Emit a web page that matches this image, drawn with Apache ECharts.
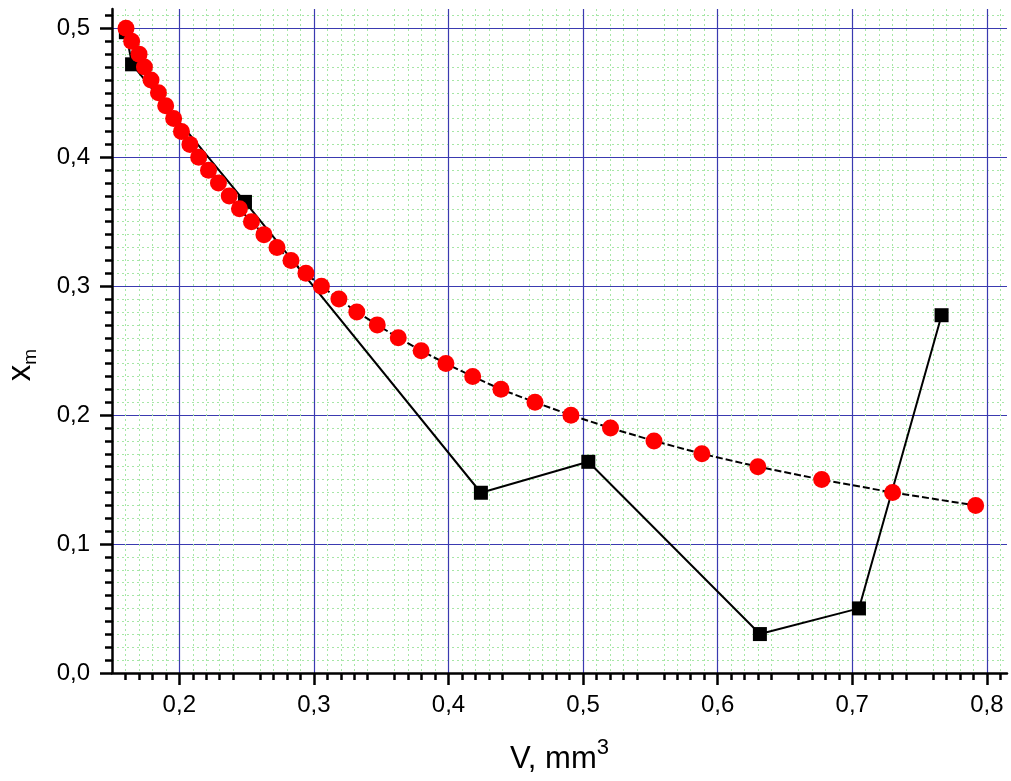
<!DOCTYPE html>
<html>
<head>
<meta charset="utf-8">
<script src="https://cdn.jsdelivr.net/npm/echarts@6/dist/echarts.min.js"></script>
<style>
html,body{margin:0;padding:0;background:#fff;}
#chart{width:1011px;height:781px;}
</style>
</head>
<body>
<div id="chart"></div>
<script>
// Red circles series (V, x_m)
const redV = [0.1604,0.1646,0.1701,0.1741,0.1790,0.1845,0.1899,0.1958,0.2016,0.2079,0.2144,0.2217,0.2291,0.2371,0.2447,0.2536,0.2629,0.2726,0.2830,0.2941,0.3056,0.3186,0.3319,0.3471,0.3627,0.3797,0.3981,0.4180,0.4390,0.4643,0.4910,0.5204,0.5527,0.5883,0.6299,0.6773,0.7300,0.7917];
const redX = [0.50,0.49,0.48,0.47,0.46,0.45,0.44,0.43,0.42,0.41,0.40,0.39,0.38,0.37,0.36,0.35,0.34,0.33,0.32,0.31,0.30,0.29,0.28,0.27,0.26,0.25,0.24,0.23,0.22,0.21,0.20,0.19,0.18,0.17,0.16,0.15,0.14,0.13];
// Black squares series
const blackV = [0.1603,0.1649,0.2488,0.4241,0.5039,0.6314,0.7050,0.7664];
const blackX = [0.497,0.4721,0.3654,0.1398,0.1638,0.0302,0.0501,0.2775];
// Tick values
const xTicks = [0.2,0.3,0.4,0.5,0.6,0.7,0.8];
const yTicks = [0.0,0.1,0.2,0.3,0.4,0.5];

const fmt = v => v.toFixed(1).replace('.', ',');
const font = "'Liberation Sans', Arial, sans-serif";

const chart = echarts.init(document.getElementById('chart'));
const axisCommon = {
  axisLine: {show: true, onZero: false, lineStyle: {color: '#000', width: 2.5}},
  axisTick: {show: true, inside: false, length: 12, lineStyle: {color: '#000', width: 2.5}},
  minorTick: {show: true, length: 7, lineStyle: {color: '#000', width: 2.5}},
  splitLine: {show: true, lineStyle: {color: '#3a3ab0', width: 1.2}},
  minorSplitLine: {show: true, lineStyle: {color: '#a6e6a6', width: 1, type: [2, 3]}}
};
chart.setOption({
  animation: false,
  backgroundColor: '#fff',
  grid: {left: 112, right: 4, top: 9, bottom: 108, containLabel: false, outerBoundsMode: 'none'},
  xAxis: Object.assign({}, axisCommon, {
    type: 'value', min: 0.15, max: 0.815, interval: 0.05,
    axisTick: Object.assign({}, axisCommon.axisTick, {customValues: xTicks}),
    minorTick: Object.assign({}, axisCommon.minorTick, {splitNumber: 5}),
    axisLabel: {customValues: xTicks, formatter: fmt, color: '#000', fontSize: 24, fontFamily: font, margin: 20},
    name: '{a|V, mm}{s|3}',
    nameLocation: 'middle', nameGap: 64,
    nameTextStyle: {
      rich: {
        a: {fontSize: 31, fontFamily: font, color: '#000', lineHeight: 38, verticalAlign: 'bottom'},
        s: {fontSize: 22, fontFamily: font, color: '#000', lineHeight: 22, verticalAlign: 'top'}
      }
    }
  }),
  yAxis: Object.assign({}, axisCommon, {
    type: 'value', min: 0, max: 0.515, interval: 0.1,
    axisTick: Object.assign({}, axisCommon.axisTick, {customValues: yTicks}),
    minorTick: Object.assign({}, axisCommon.minorTick, {splitNumber: 10}),
    axisLabel: {customValues: yTicks, formatter: fmt, color: '#000', fontSize: 24, fontFamily: font, margin: 22},
    name: '{a|x}{s|m}',
    nameLocation: 'middle', nameRotate: 90, nameGap: 72,
    nameTextStyle: {
      padding: [0, 48, 0, 0],
      rich: {
        a: {fontSize: 33, fontFamily: font, color: '#000', lineHeight: 36, verticalAlign: 'top'},
        s: {fontSize: 19, fontFamily: font, color: '#000', lineHeight: 19, verticalAlign: 'bottom'}
      }
    }
  }),
  series: [
    {
      type: 'line', z: 2,
      data: blackV.map((v, i) => [v, blackX[i]]),
      symbol: 'rect', symbolSize: 14,
      itemStyle: {color: '#000'},
      lineStyle: {color: '#000', width: 2}
    },
    {
      type: 'line', z: 3,
      data: redV.map((v, i) => [v, redX[i]]),
      symbol: 'circle', symbolSize: 17,
      itemStyle: {color: '#ff0000'},
      lineStyle: {color: '#000', width: 2, type: [7, 3]}
    }
  ]
});
</script>
</body>
</html>
